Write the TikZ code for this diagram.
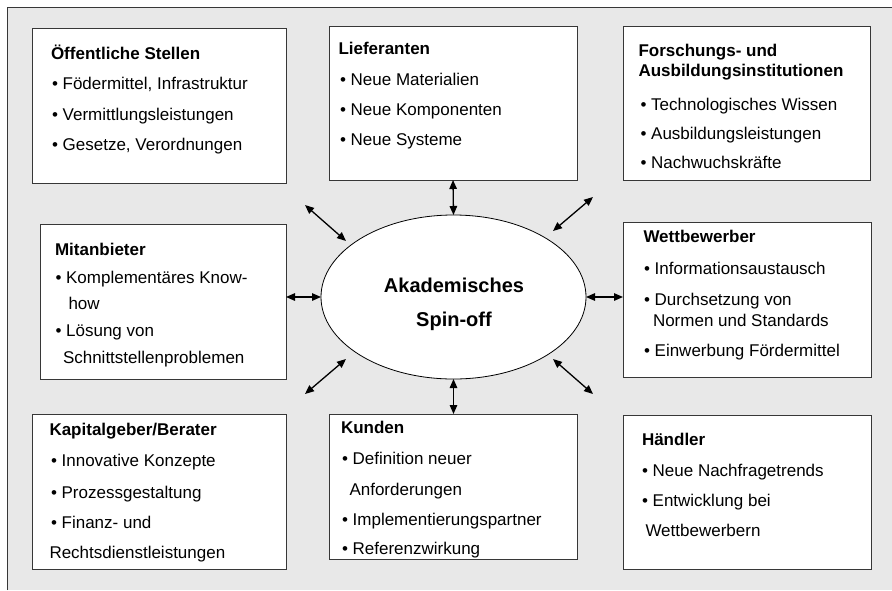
\documentclass[tikz,border=0pt]{standalone}
\usepackage{fontspec}
\setmainfont{Liberation Sans}
\usetikzlibrary{arrows.meta,shapes.geometric,shadows}
\definecolor{bgfill}{RGB}{232,232,232}
\definecolor{framecol}{RGB}{55,55,55}
\definecolor{shadecol}{RGB}{165,165,165}
\begin{document}
\begin{tikzpicture}[x=1pt,y=-1pt,
  panel/.style={draw=framecol, line width=0.9pt, fill=white, inner sep=0pt, outer sep=0pt,
    drop shadow={shadow xshift=1.2pt, shadow yshift=-1.2pt, fill=shadecol, opacity=1}},
  txt/.style={anchor=base west, inner sep=0pt, outer sep=0pt, font=\fontsize{17}{20}\selectfont},
  ttl/.style={anchor=base west, inner sep=0pt, outer sep=0pt, font=\fontsize{17}{20}\selectfont\bfseries},
  big/.style={anchor=base, inner sep=0pt, outer sep=0pt, font=\fontsize{20}{24}\selectfont\bfseries},
  arr/.style={{Triangle[length=9pt,width=7.5pt]}-{Triangle[length=9pt,width=7.5pt]}, line width=1.3pt}
]
\useasboundingbox (0,0) rectangle (892,590);
% background frame
\fill[bgfill] (7,7) rectangle (892,590);
\draw[framecol, line width=0.9pt] (7,590) -- (7,7) -- (892,7);

% boxes
\node[panel, minimum width=254pt, minimum height=155pt] (b1) at (159,105.5) {};
\node[panel, minimum width=248pt, minimum height=154pt] (b2) at (453,103) {};
\node[panel, minimum width=247pt, minimum height=154pt] (b3) at (746.5,103) {};
\node[panel, minimum width=246pt, minimum height=155pt] (b4) at (163,301.5) {};
\node[panel, minimum width=248pt, minimum height=155pt] (b5) at (747,299.5) {};
\node[panel, minimum width=254pt, minimum height=155pt] (b6) at (159,491.5) {};
\node[panel, minimum width=248pt, minimum height=145pt] (b7) at (453,486.5) {};
\node[panel, minimum width=248pt, minimum height=154pt] (b8) at (747,492) {};

% central ellipse
\node[ellipse, draw=black, line width=0.8pt, fill=white, minimum width=265pt, minimum height=164pt, inner sep=0pt, outer sep=0pt] (spin) at (453.5,297) {};
\node[big] (spinA) at (454,292.7) {Akademisches};
\node[big] (spinB) at (454,326) {Spin-off};

% box 1
\node[ttl] (t1) at (51,59.3) {Öffentliche Stellen};
\node[txt] (t1a) at (52,89.3) {• Födermittel, Infrastruktur};
\node[txt] (t1b) at (52,120.3) {• Vermittlungsleistungen};
\node[txt] (t1c) at (52,150.7) {• Gesetze, Verordnungen};

% box 2
\node[ttl] (t2) at (338.5,54) {Lieferanten};
\node[txt] (t2a) at (340,85) {• Neue Materialien};
\node[txt] (t2b) at (340,115) {• Neue Komponenten};
\node[txt] (t2c) at (340,145.7) {• Neue Systeme};

% box 3
\node[ttl] (t3) at (638.5,56) {Forschungs- und};
\node[ttl] (t3x) at (638.5,76.7) {Ausbildungsinstitutionen};
\node[txt] (t3a) at (640.5,110) {• Technologisches Wissen};
\node[txt] (t3b) at (640.5,139.3) {• Ausbildungsleistungen};
\node[txt] (t3c) at (640.5,168.3) {• Nachwuchskräfte};

% box 4
\node[ttl] (t4) at (55,255.7) {Mitanbieter};
\node[txt] (t4a) at (55.5,283.3) {• Komplementäres Know-};
\node[txt] (t4b) at (68.5,309) {how};
\node[txt] (t4c) at (55.5,336.7) {• Lösung von};
\node[txt] (t4d) at (63,363.3) {Schnittstellenproblemen};

% box 5
\node[ttl] (t5) at (643.5,242.3) {Wettbewerber};
\node[txt] (t5a) at (644,274.3) {• Informationsaustausch};
\node[txt] (t5b) at (644,305) {• Durchsetzung von};
\node[txt] (t5c) at (653,326) {Normen und Standards};
\node[txt] (t5d) at (644,356.7) {• Einwerbung Fördermittel};

% box 6
\node[ttl] (t6) at (49.5,435) {Kapitalgeber/Berater};
\node[txt] (t6a) at (51,466.7) {• Innovative Konzepte};
\node[txt] (t6b) at (51,498.3) {• Prozessgestaltung};
\node[txt] (t6c) at (51,528.3) {• Finanz- und};
\node[txt] (t6d) at (49.5,558.3) {Rechtsdienstleistungen};

% box 7
\node[ttl] (t7) at (341,433.3) {Kunden};
\node[txt] (t7a) at (342,464.3) {• Definition neuer};
\node[txt] (t7b) at (349.5,495) {Anforderungen};
\node[txt] (t7c) at (342,525) {• Implementierungspartner};
\node[txt] (t7d) at (342,554.3) {• Referenzwirkung};

% box 8
\node[ttl] (t8) at (642,445) {Händler};
\node[txt] (t8a) at (642,476) {• Neue Nachfragetrends};
\node[txt] (t8b) at (642,506.7) {• Entwicklung bei};
\node[txt] (t8c) at (645.5,536.7) {Wettbewerbern};

% connectors
\draw[arr] (b2.south) -- (spin.north);
\draw[arr] (spin.south) -- (spin.south |- b7.north);
\draw[arr] (spin.west -| b4.east) -- (spin.west);
\draw[arr] (spin.east) -- (spin.east -| b5.west);

\coordinate (ulA) at (305,205);
\coordinate (ulB) at (346,241);
\coordinate (urA) at (553,231);
\coordinate (urB) at (593,197);
\coordinate (llA) at (346,359);
\coordinate (llB) at (305,394);
\coordinate (lrA) at (553,359);
\coordinate (lrB) at (593,394);
\draw[arr] (ulA) -- (ulB);
\draw[arr] (urA) -- (urB);
\draw[arr] (llA) -- (llB);
\draw[arr] (lrA) -- (lrB);
\end{tikzpicture}
\end{document}
